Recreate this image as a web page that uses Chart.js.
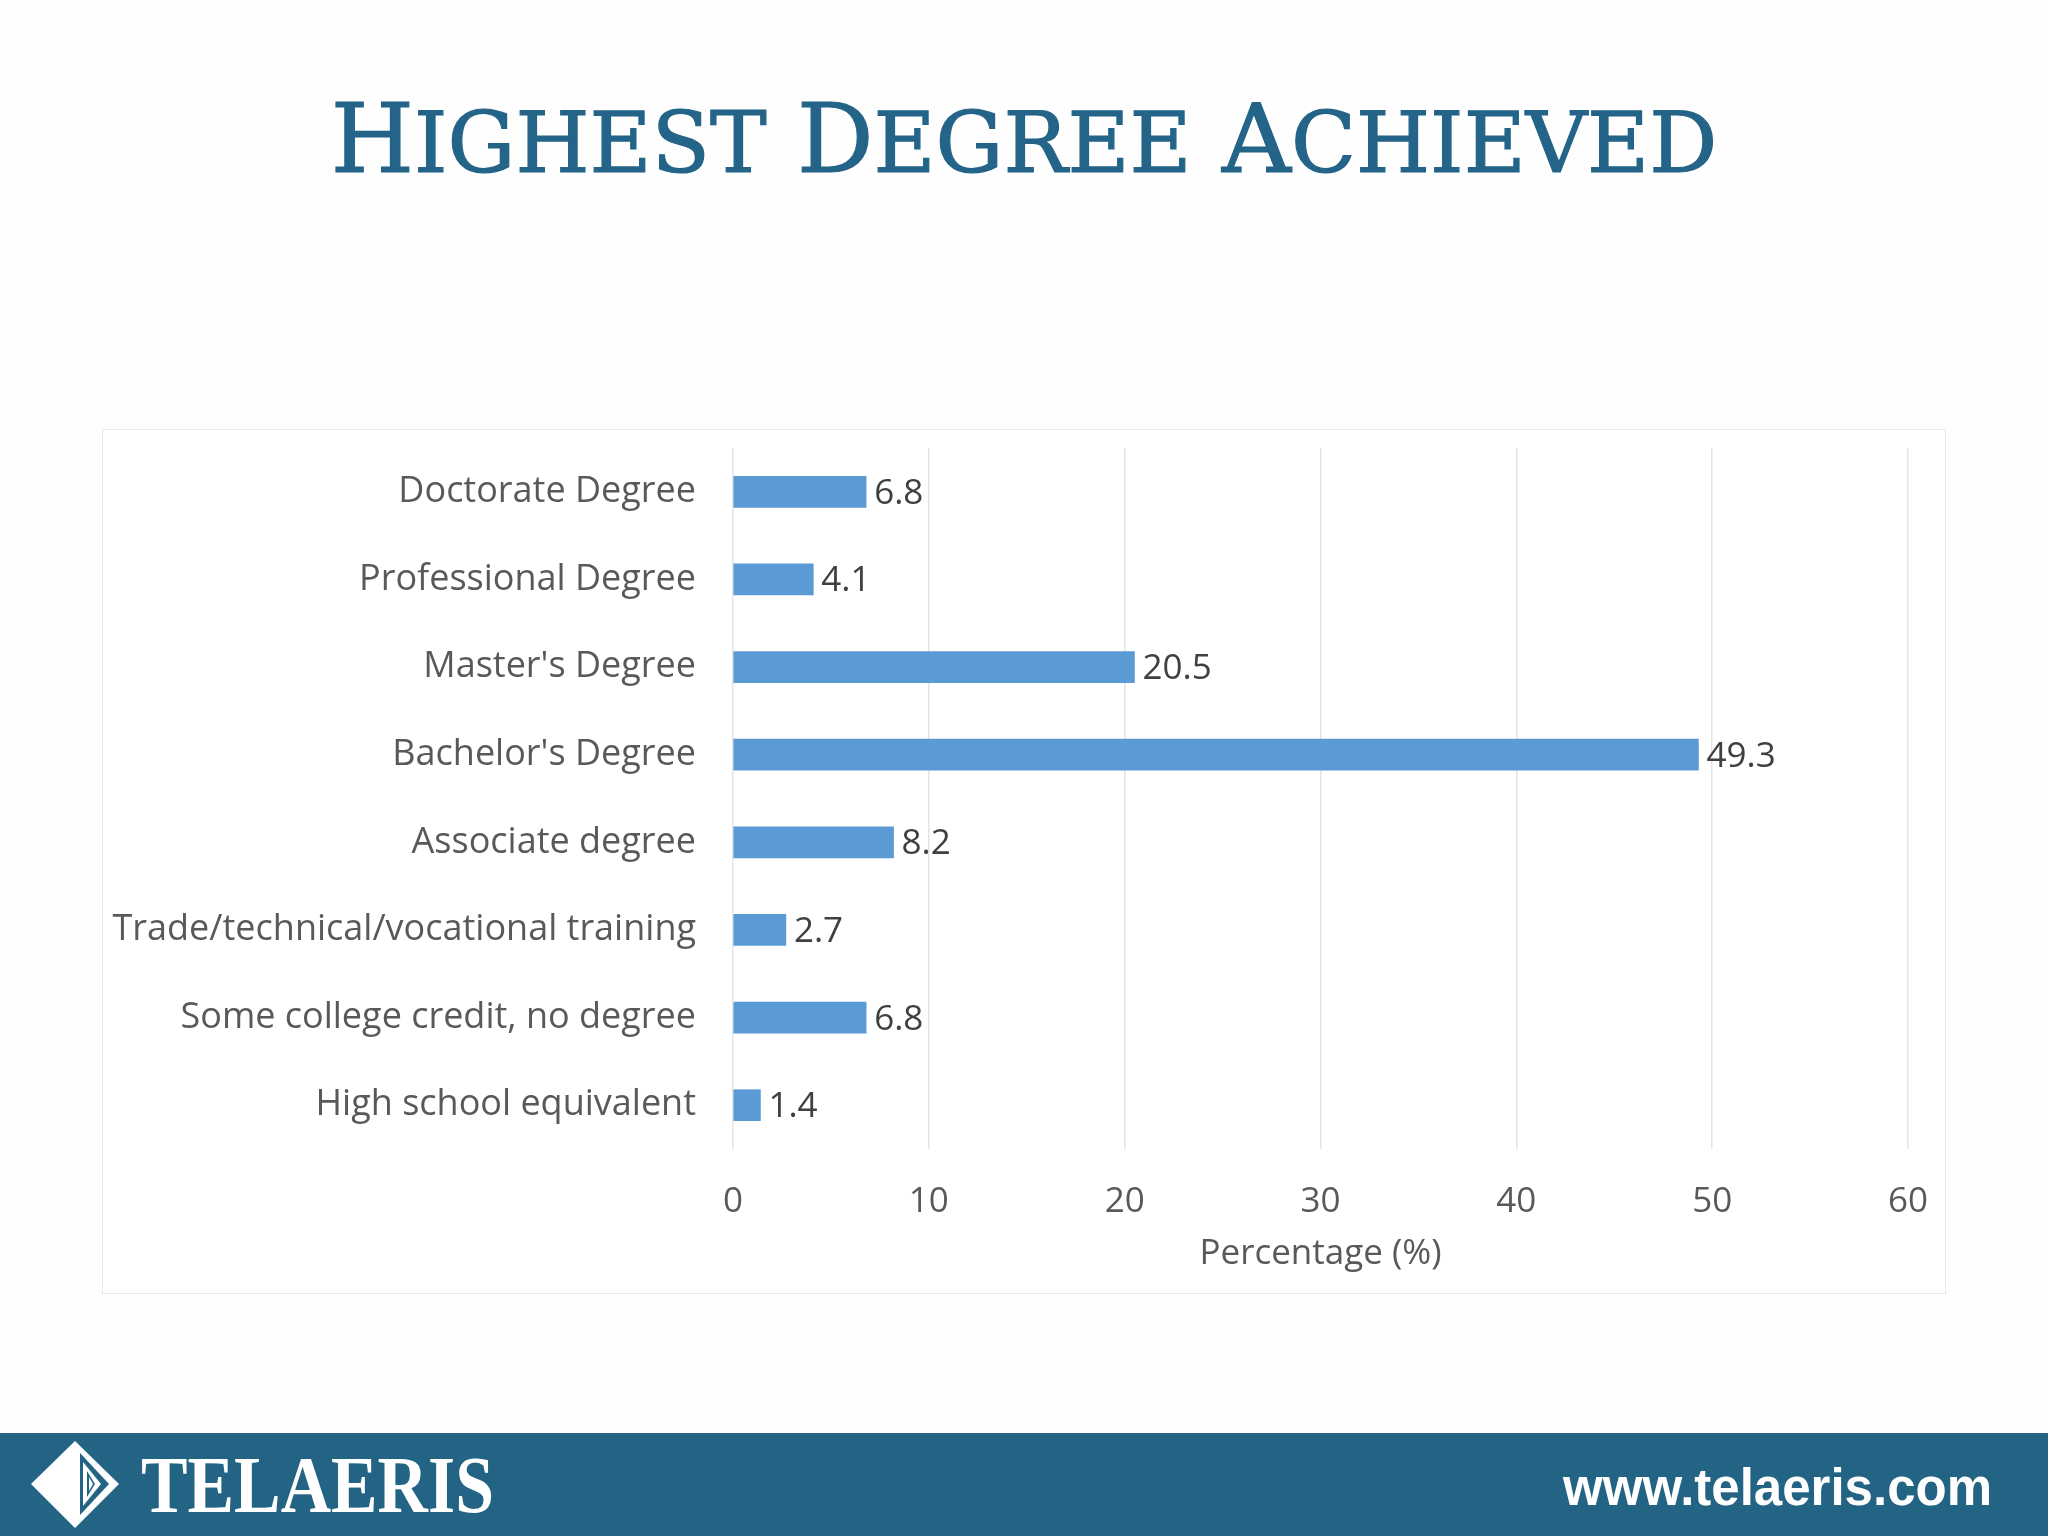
<!DOCTYPE html>
<html>
<head>
<meta charset="utf-8">
<title>Highest Degree Achieved</title>
<script src="https://cdn.jsdelivr.net/npm/chart.js@4.4.1/dist/chart.umd.min.js"></script>
<style>
  html, body { margin: 0; padding: 0; }
  body { width: 2048px; height: 1536px; position: relative; background: #fefefe; overflow: hidden; }
  #title { position: absolute; left: 0; top: 92px; width: 2048px; text-align: center;
           font-family: "DejaVu Serif", serif; font-size: 95.5px; line-height: 1; color: #236488;
           -webkit-text-stroke: 1.2px #236488; }
  #title .s { font-size: 85px; }
  #chart-box { position: absolute; left: 102px; top: 429px; width: 1842px; height: 863px;
               border: 1px solid #e6e6e6; background: #ffffff; }
  #footer { position: absolute; left: 0; top: 1433px; width: 2048px; height: 103px; }
</style>
</head>
<body>
<div id="title"><span>H</span><span class="s">IGHEST</span> <span>D</span><span class="s">EGREE</span> <span>A</span><span class="s">CHIEVED</span></div>

<div id="chart-box"><canvas id="degreeChart"></canvas></div>

<svg id="footer" width="2048" height="103" xmlns="http://www.w3.org/2000/svg">
  <rect x="0" y="0" width="2048" height="103" fill="#236485"/>
  <!-- logo mark -->
  <polygon points="31,51 75,8 119,51 75,95" fill="#ffffff"/>
  <polygon points="80,20 109,51 80,82" fill="#236485"/>
  <polygon points="83,29 101,51 83,73" fill="#ffffff"/>
  <polygon points="87,38 95,51 87,64" fill="#236485"/>
  <polygon points="89,44 93,51 89,58" fill="#ffffff"/>
  <text x="141" y="79" textLength="353" lengthAdjust="spacingAndGlyphs"
        font-family="Liberation Serif, serif" font-weight="bold" font-size="80" fill="#ffffff">TELAERIS</text>
  <text x="1992" y="72" text-anchor="end"
        font-family="Liberation Sans, Arial, sans-serif" font-weight="bold" font-size="51" fill="#ffffff">www.telaeris.com</text>
</svg>

<script>
// chart data
const categories = [
  'Doctorate Degree',
  'Professional Degree',
  "Master's Degree",
  "Bachelor's Degree",
  'Associate degree',
  'Trade/technical/vocational training',
  'Some college credit, no degree',
  'High school equivalent'
];
const percentages = [6.8, 4.1, 20.5, 49.3, 8.2, 2.7, 6.8, 1.4];
const xTickValues = [0, 10, 20, 30, 40, 50, 60];
const xAxisTitle = 'Percentage (%)';

(function(){
  const FONT = '"Open Sans", sans-serif';

  // value labels at the end of each bar
  const barLabels = {
    id: 'barLabels',
    afterDatasetsDraw(chart) {
      const ctx = chart.ctx;
      const meta = chart.getDatasetMeta(0);
      ctx.save();
      ctx.font = '35px ' + FONT;
      ctx.fillStyle = '#404040';
      ctx.textAlign = 'left';
      ctx.textBaseline = 'middle';
      meta.data.forEach((bar, i) => {
        ctx.fillText(String(percentages[i]), bar.x + 8, bar.y + 2);
      });
      ctx.restore();
    }
  };

  const ctx = document.getElementById('degreeChart').getContext('2d');
  new Chart(ctx, {
    type: 'bar',
    data: {
      labels: categories,
      datasets: [{
        data: percentages,
        backgroundColor: '#5b9bd5',
        borderWidth: 0,
        barThickness: 31
      }]
    },
    plugins: [barLabels],
    options: {
      indexAxis: 'y',
      responsive: true,
      maintainAspectRatio: false,
      animation: false,
      layout: { padding: { top: 18, right: 37, bottom: 0, left: 0 } },
      plugins: {
        legend: { display: false },
        tooltip: { enabled: false }
      },
      scales: {
        x: {
          min: 0,
          max: 60,
          afterBuildTicks: (scale) => { scale.ticks = xTickValues.map(v => ({ value: v })); },
          afterFit: (scale) => {
            scale.height = 144;
            scale.paddingLeft = 0; scale.paddingRight = 0;
          },
          grid: { color: '#e4e4e4', lineWidth: 1.5, drawTicks: false },
          border: { display: false },
          ticks: { padding: 32, color: '#595959', font: { family: FONT, size: 35 } },
          title: {
            display: true,
            text: xAxisTitle,
            color: '#595959',
            font: { family: FONT, size: 35 },
            padding: { top: 0, bottom: 18 }
          }
        },
        y: {
          afterFit: (scale) => {
            scale.width = 630;
            scale.paddingTop = 0; scale.paddingBottom = 0;
          },
          grid: { display: false },
          border: { display: false },
          ticks: { padding: 29, color: '#595959', font: { family: FONT, size: 36 } }
        }
      }
    }
  });
})();
</script>
</body>
</html>
